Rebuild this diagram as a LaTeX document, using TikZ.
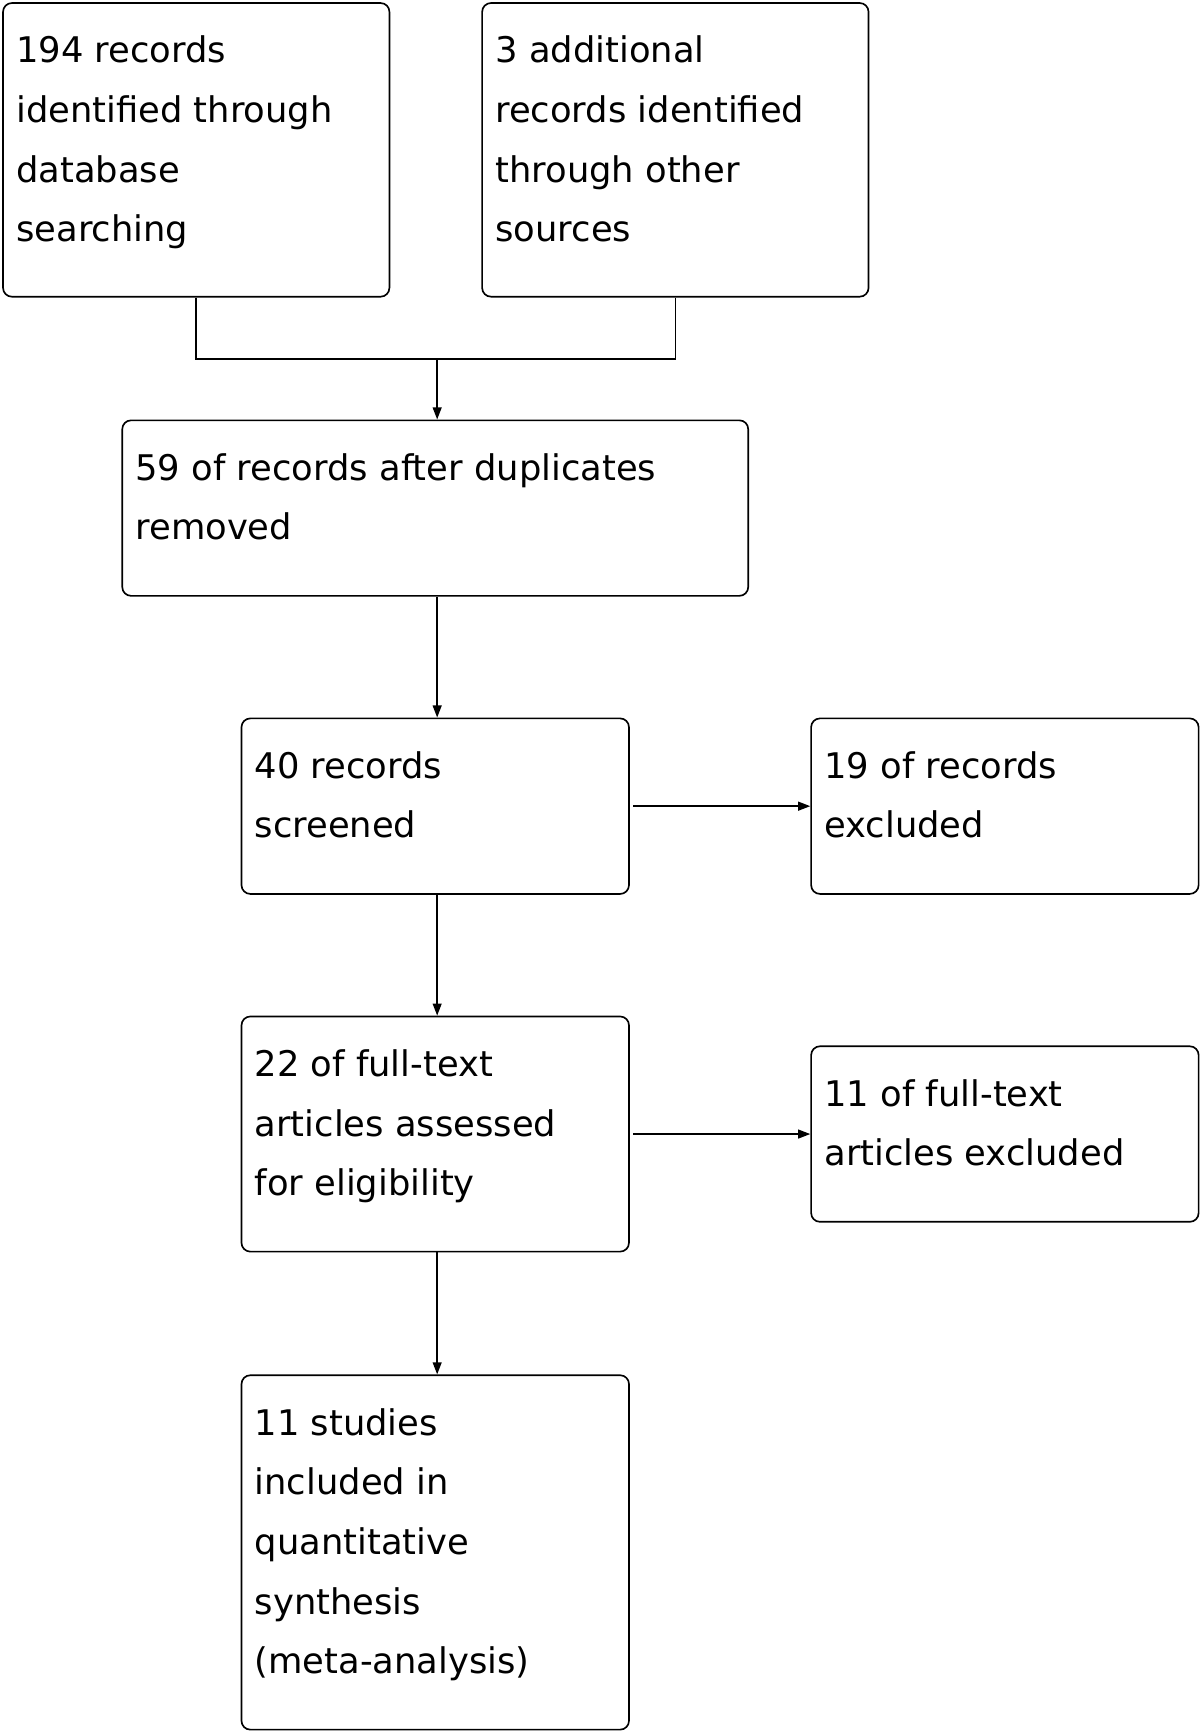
\documentclass[tikz,border=0pt]{standalone}
\usepackage{fontspec}
\setmainfont{DejaVu Sans}
\usetikzlibrary{arrows.meta}
\newcommand{\bxt}[3]{\parbox[t][#2pt][t]{#1pt}{\fontsize{32}{54}\selectfont\leftskip=12pt\rightskip=0pt plus 1fil\parindent=0pt\vspace*{30pt}\rule{0pt}{24pt}#3}}
\tikzset{
  box/.style={draw, rounded corners=8pt, line width=1.5pt, inner sep=0pt, anchor=north west},
  arr/.style={line width=1.5pt, -{Triangle[length=11pt,width=8pt]}},
  ln/.style={line width=1.5pt}
}
\begin{document}
\begin{tikzpicture}[x=1pt,y=-1pt]
\useasboundingbox (0,0) rectangle (1088,1568);
\node[box] (A) at (2,2) {\bxt{350}{266}{194 records\\identified through\\database\\searching}};
\node[box] (B) at (436,2) {\bxt{350}{266}{3 additional\\records identified\\through other\\sources}};
\node[box] (C) at (110,380) {\bxt{567}{159}{59 of records after duplicates\\removed}};
\node[box] (D) at (218,650) {\bxt{351}{159}{40 records\\screened}};
\node[box] (E) at (734,650) {\bxt{351}{159}{19 of records\\excluded}};
\node[box] (F) at (218,920) {\bxt{351}{213}{22 of full-text\\articles assessed\\for eligibility}};
\node[box] (G) at (734,947) {\bxt{351}{159}{11 of full-text\\articles excluded}};
\node[box] (H) at (218,1245) {\bxt{351}{321}{11 studies\\included in\\quantitative\\synthesis\\(meta-analysis)}};
\coordinate (j) at (396,325);
\draw[ln] (A.south) |- (j);
\draw[ln] (B.south) |- (j);
\draw[arr] (j) -- (j|-C.north);
\draw[arr] (C.south-|j) -- (j|-D.north);
\draw[arr] (D.south-|j) -- (j|-F.north);
\draw[arr] (F.south-|j) -- (j|-H.north);
\draw[arr] ([xshift=3pt]D.east) -- (E.west);
\draw[arr] ([xshift=3pt]F.east|-G.west) -- (G.west);
\end{tikzpicture}
\end{document}
